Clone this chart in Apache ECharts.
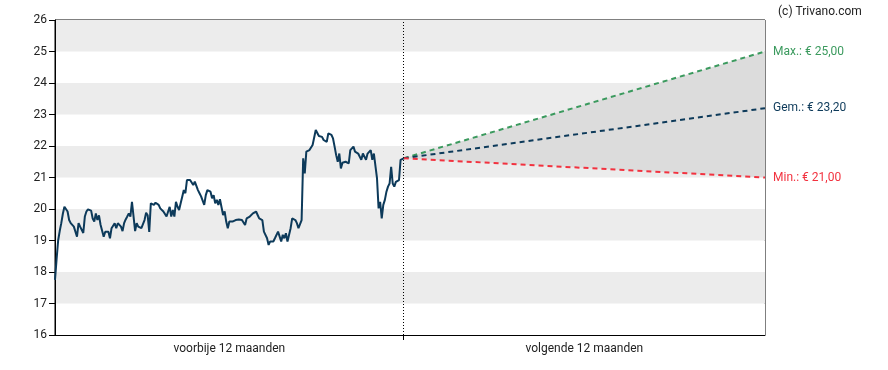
<!DOCTYPE html>
<html>
<head>
<meta charset="utf-8">
<script src="https://cdn.jsdelivr.net/npm/echarts@6/dist/echarts.min.js"></script>
<style>html,body{margin:0;padding:0;background:#fff}#c{width:888px;height:370px}</style>
</head>
<body>
<div id="c"></div>
<script>
// ---- data ----
const pastPrices = [
  17.75, 18.4, 19.0, 19.3, 19.55, 19.85, 20.07, 20.03, 19.92, 19.65, 19.55, 19.6, 19.44, 19.5, 19.12, 19.55, 19.44, 19.5, 19.24, 19.76,
  19.92, 19.99, 20.02, 19.95, 19.7, 19.6, 19.86, 19.65, 19.8, 19.5, 19.44, 19.12, 19.28, 19.33, 19.28, 19.07, 19.39, 19.33, 19.55, 19.39,
  19.55, 19.57, 19.44, 19.3, 19.55, 19.67, 19.76, 19.86, 19.76, 20.23, 20.18, 19.3, 19.55, 19.44, 19.44,
  19.39, 19.33, 19.65, 19.88, 19.8, 19.27, 20.18, 20.23, 20.13, 20.2, 20.2, 20.13, 20.02, 19.97, 19.92, 19.86, 19.76, 19.7, 20.07, 19.76,
  19.97, 19.76, 20.23, 20.07, 19.97, 20.18, 20.39, 20.6, 20.5, 20.92, 20.92, 20.92, 20.87, 20.76, 20.87, 20.87, 20.6, 20.5, 20.4, 20.34,
  20.13, 20.44, 20.6, 20.62, 20.55, 20.34, 20.44, 20.18, 20.29, 20.13, 20.31, 20.29, 19.81,
  19.92, 19.6, 19.39, 19.6, 19.55, 19.6, 19.57, 19.65, 19.6, 19.67, 19.7, 19.65, 19.7, 19.49, 19.7, 19.65, 19.76, 19.7, 19.86, 19.92,
  19.92, 19.81, 19.7, 19.65, 19.65, 19.28, 19.28, 19.07, 18.86, 18.97, 19.02, 18.97, 19.07, 19.02, 19.28, 19.23, 18.97, 19.18, 19.07, 19.23,
  18.97, 18.91, 19.39, 19.7, 19.7, 19.65, 19.55, 19.39, 19.44, 19.65,
  21.61, 21.13, 21.82, 21.76, 21.87, 21.92, 22.03, 22.08, 22.51, 22.45, 22.32, 22.32, 22.29, 22.19, 22.24, 22.13, 22.4, 22.4, 22.35, 22.24,
  21.98, 21.71, 21.5, 21.76, 21.29, 21.47, 21.47, 21.5, 21.5, 21.45, 21.87, 21.92, 21.98, 21.82, 21.82, 21.76, 21.76, 21.56, 21.76, 21.76,
  21.56, 21.76, 21.82, 21.87, 21.56, 21.76, 21.71, 20.97, 20.02, 20.23, 19.7, 20.13, 20.29, 20.55, 20.71, 20.81, 21.34, 20.81, 20.71, 20.86,
  20.89, 20.92, 21.56, 21.61, 21.61
];
const forecastNames = ['Max.', 'Gem.', 'Min.'];
const forecastTargets = [25.00, 23.20, 21.00];
const forecastColors = ['#3b9a5e', '#0d3a5a', '#f2323f'];
const periodLabels = ['voorbije 12 maanden', 'volgende 12 maanden'];
const yTicks = [16, 17, 18, 19, 20, 21, 22, 23, 24, 25, 26];

// ---- layout in index units ----
const divider = pastPrices.length - 1;
const futureLen = Math.round(divider * 361 / 349);
const xEnd = divider + futureLen;
const lastPrice = pastPrices[divider];

const pastData = pastPrices.map((v, i) => [i, v]);
const fcLine = t => [[divider, lastPrice], [xEnd, t]];
const minT = forecastTargets[2], maxT = forecastTargets[0];

const series = [
  {
    type: 'custom', silent: true, z: 1,
    data: [[divider, lastPrice, xEnd, maxT, minT]],
    renderItem: (params, api) => {
      const p0 = api.coord([api.value(0), api.value(1)]);
      const p1 = api.coord([api.value(2), api.value(3)]);
      const p2 = api.coord([api.value(2), api.value(4)]);
      return { type: 'polygon', shape: { points: [p0, p1, p2] }, style: { fill: '#dcdcdc' } };
    }
  },
  {
    type: 'line', symbol: 'none', data: pastData, z: 5,
    lineStyle: { color: '#0d3a5a', width: 2 },
    markLine: {
      silent: true, symbol: 'none', label: { show: false },
      lineStyle: { type: [1, 2], color: '#000', width: 1 },
      data: [{ xAxis: divider }]
    }
  }
];
forecastTargets.forEach((t, k) => {
  series.push({
    type: 'line', symbol: 'none', data: fcLine(t), z: 4,
    lineStyle: { color: forecastColors[k], width: 2, type: [5, 4] },
    endLabel: {
      show: true, distance: 8, color: forecastColors[k],
      fontFamily: 'Roboto', fontSize: 12,
      formatter: () => forecastNames[k] + ': € ' + t.toFixed(2).replace('.', ',')
    }
  });
});

const chart = echarts.init(document.getElementById('c'), null, { renderer: 'canvas' });
chart.setOption({
  animation: false,
  backgroundColor: '#fff',
  title: {
    text: '(c) Trivano.com', left: 773, top: 1,
    textStyle: { fontFamily: 'Roboto', fontSize: 12, fontWeight: 'normal', color: '#222' }
  },
  grid: { left: 55, top: 20, right: 123, bottom: 35, show: true, borderColor: '#000', borderWidth: 1, backgroundColor: 'transparent' },
  xAxis: {
    type: 'value', min: 0, max: xEnd,
    axisLine: { show: true, lineStyle: { color: '#000' } },
    splitLine: { show: false },
    axisTick: { show: true, length: 5, customValues: [divider], lineStyle: { color: '#000' } },
    axisLabel: {
      show: true, margin: 8, color: '#222', fontFamily: 'Roboto', fontSize: 12,
      customValues: [divider / 2, divider + futureLen / 2],
      formatter: v => (v < divider ? periodLabels[0] : periodLabels[1])
    }
  },
  yAxis: {
    type: 'value', min: yTicks[0], max: yTicks[yTicks.length - 1], interval: 1,
    axisLine: { show: true, lineStyle: { color: '#000' } },
    axisTick: { show: true, length: 6, lineStyle: { color: '#000' } },
    axisLabel: { margin: 8, color: '#222', fontFamily: 'Roboto', fontSize: 12 },
    splitLine: { show: false },
    splitArea: { show: true, areaStyle: { color: ['#ffffff', '#ececec'] } }
  },
  series: series
});
</script>
</body>
</html>
